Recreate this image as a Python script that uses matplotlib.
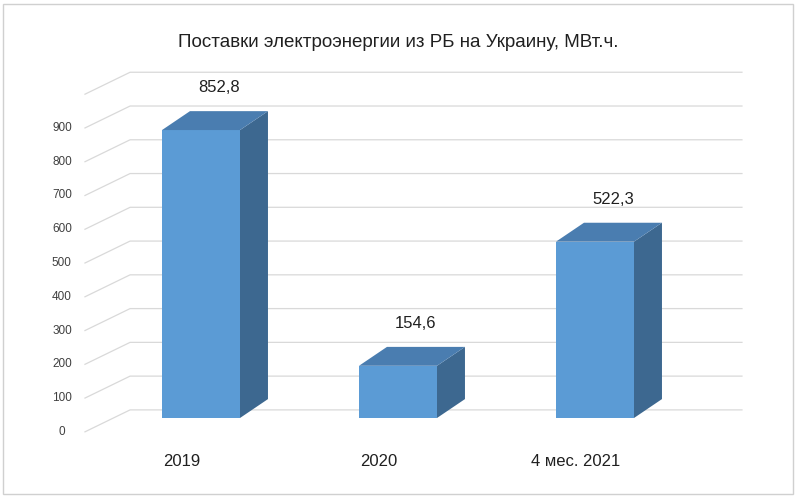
import matplotlib.pyplot as plt
from matplotlib.patches import Polygon, Rectangle

# data
categories = ['2019', '2020', '4 мес. 2021']
values = [852.8, 154.6, 522.3]
value_labels = ['852,8', '154,6', '522,3']
ticks = [0, 100, 200, 300, 400, 500, 600, 700, 800, 900]
title = 'Поставки электроэнергии из РБ на Украину, МВт.ч.'

plt.rcParams['font.family'] = ['Liberation Sans', 'DejaVu Sans']

fig = plt.figure(figsize=(7.96, 4.97), dpi=100)
ax = fig.add_axes([0, 0, 1, 1])
ax.set_xlim(-201 / 197, (796 - 201) / 197)
ax.set_ylim(-234, 1238)
ax.axis('off')

# frame around chart
fig.patches.append(Rectangle((0.004, 0.006), 0.992, 0.986, transform=fig.transFigure,
                             fill=False, edgecolor='#d0d0d0', linewidth=1))

# walls / gridlines (oblique projection)
wall_x0, wall_x1, wall_right = -0.589, -0.36, 2.746
floor_off = -41
wall_dy = 65
for v in ticks + [1000]:
    y0 = v + floor_off
    ax.plot([wall_x0, wall_x1, wall_right], [y0, y0 + wall_dy, y0 + wall_dy],
            color='#d9d9d9', linewidth=0.9, zorder=1)
for v in ticks:
    ax.text(-0.706, v + floor_off, str(v), ha='center', va='center', fontsize=8.5, color='#404040')

# bars
bw = 78 / 197
dx, dy = 0.142, 56
for i, v in enumerate(values):
    x0, x1 = i - bw / 2, i + bw / 2
    ax.add_patch(Polygon([(x0, 0), (x1, 0), (x1, v), (x0, v)], closed=True,
                         facecolor='#5b9bd5', edgecolor='none', zorder=3))
    ax.add_patch(Polygon([(x1, 0), (x1 + dx, dy), (x1 + dx, v + dy), (x1, v)], closed=True,
                         facecolor='#3d6890', edgecolor='none', zorder=3))
    ax.add_patch(Polygon([(x0, v), (x1, v), (x1 + dx, v + dy), (x0 + dx, v + dy)], closed=True,
                         facecolor='#4a7db0', edgecolor='none', zorder=3))
    ax.text(i + dx / 2 + 0.02, v + dy + 70, value_labels[i], ha='center', va='center',
            fontsize=12, color='#202020')
    ax.text(i - 0.1, -128, categories[i], ha='center', va='center', fontsize=12, color='#202020')

ax.text((796 / 2 - 201) / 197, (418 - 42) / 0.3377, title, ha='center', va='center',
        fontsize=13.5, color='#202020')

fig.savefig('out.png', dpi=100)
